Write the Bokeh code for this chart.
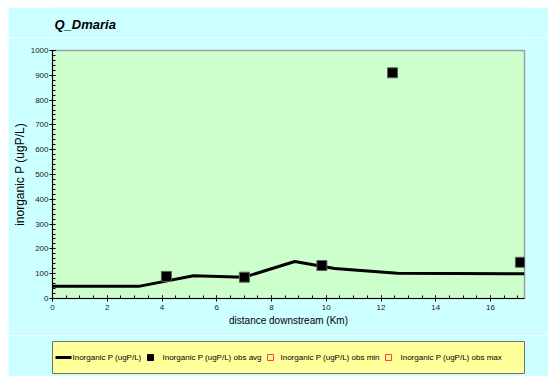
from bokeh.plotting import figure
from bokeh.layouts import column
from bokeh.models import Range1d, FixedTicker
from bokeh.core.properties import value
from bokeh.embed import file_html
from bokeh.resources import INLINE

NAN = float("nan")

# Model line
model_x = [0.0, 3.15, 5.15, 7.0, 8.85, 10.3, 12.6, 17.24]
model_y = [49, 49, 92, 86, 149, 121, 102, 100]
# Observed averages
obs_x = [4.16, 7.01, 9.84, 12.42, 17.09]
obs_y = [89, 86, 133, 910, 146]
# Observed min / max (no observations)
min_x, min_y = [NAN], [NAN]
max_x, max_y = [NAN], [NAN]

chart_title = "Q_Dmaria"
series_names = ["Inorganic P (ugP/L)", "Inorganic P (ugP/L) obs avg",
                "Inorganic P (ugP/L) obs min", "Inorganic P (ugP/L) obs max"]
x_ticks = [0, 2, 4, 6, 8, 10, 12, 14, 16]
y_ticks = [0, 100, 200, 300, 400, 500, 600, 700, 800, 900, 1000]

FONT = "Liberation Sans"
BG = "#CCFFFF"


def strip(height, x0, x1):
    f = figure(width=540, height=height, output_backend="svg", toolbar_location=None,
               x_range=Range1d(x0, x1), y_range=Range1d(0, height),
               min_border=0, x_axis_location=None, y_axis_location=None)
    f.border_fill_color = BG
    f.background_fill_color = BG
    f.outline_line_color = None
    f.xgrid.visible = False
    f.ygrid.visible = False
    f.title.text_font_size = "0px"
    f.title.standoff = 0
    return f


# Title strip (frame aligned to main plot frame: 52..524 page px)
t = strip(30, 52, 524)
t.text(x=[54], y=[13], text=[chart_title], text_font=value(FONT),
       text_font_size="13px", text_font_style="bold italic", text_color="#000000",
       text_baseline="middle", text_align="left")

p = figure(width=540, height=298, output_backend="svg", toolbar_location=None,
           x_range=Range1d(0, 17.24), y_range=Range1d(0, 1000),
           min_border_left=44, min_border_right=24, min_border_top=13,
           min_border_bottom=37)
p.border_fill_color = BG
p.background_fill_color = "#CCFFCC"
p.outline_line_color = "#A0A0A0"
p.outline_line_width = 1.5
p.xgrid.visible = False
p.ygrid.visible = False
p.title.text_font_size = "0px"
p.title.standoff = 0

p.line(model_x, model_y, line_color="black", line_width=3)
p.scatter(obs_x, obs_y, marker="square", size=10, fill_color="black",
          line_color="#606060")
p.scatter(min_x, min_y, marker="square", size=7, fill_color=None, line_color="#FF4040")
p.scatter(max_x, max_y, marker="square", size=7, fill_color=None, line_color="#FF4040")

for ax in (p.xaxis[0], p.yaxis[0]):
    ax.axis_line_color = "#000000"
    ax.major_tick_line_color = "#000000"
    ax.minor_tick_line_color = "#000000"
    ax.major_tick_in = 3
    ax.major_tick_out = 3
    ax.minor_tick_in = 3
    ax.minor_tick_out = 0
    ax.major_label_text_font = FONT
    ax.major_label_text_font_size = "8px"
    ax.major_label_text_color = "#222222"
    ax.axis_label_text_font = FONT
    ax.axis_label_text_font_style = "normal"
    ax.axis_label_text_color = "#000000"

p.xaxis[0].ticker = FixedTicker(ticks=x_ticks, minor_ticks=[i * 0.5 for i in range(35)])
p.yaxis[0].ticker = FixedTicker(ticks=y_ticks, minor_ticks=list(range(0, 1001, 20)))
p.xaxis[0].axis_label = "distance downstream (Km)"
p.xaxis[0].axis_label_text_font_size = "10px"
p.xaxis[0].axis_label_standoff = 2
p.yaxis[0].axis_label = "inorganic P (ugP/L)"
p.yaxis[0].axis_label_text_font_size = "12px"
p.yaxis[0].axis_label_standoff = 1
p.xaxis[0].major_label_standoff = 3
p.yaxis[0].major_label_standoff = 1

# Legend strip (frame aligned to main plot frame: 52..524 page px)
q = strip(41, 52, 524)
q.background_fill_color = "#FFFF99"
q.outline_line_color = "#707070"
q.min_border_top = 6
q.min_border_bottom = 3
q.y_range = Range1d(0, 32)
yc = 16
q.line([55, 71], [yc, yc], line_color="black", line_width=3)
q.scatter([150], [yc], marker="square", size=6, fill_color="black", line_color="black")
q.scatter([270, 388], [yc, yc], marker="square", size=6, fill_color=None,
          line_color="#FF4040", line_width=1)
q.text(x=[72, 162, 280, 400], y=[yc] * 4, text=series_names,
       text_font=value(FONT), text_font_size="8px", text_color="#000000",
       text_baseline="middle", text_align="left")

layout = column(t, p, q, spacing=0, margin=(7, 0, 0, 8))
open("out.html", "w").write(file_html(layout, INLINE))
